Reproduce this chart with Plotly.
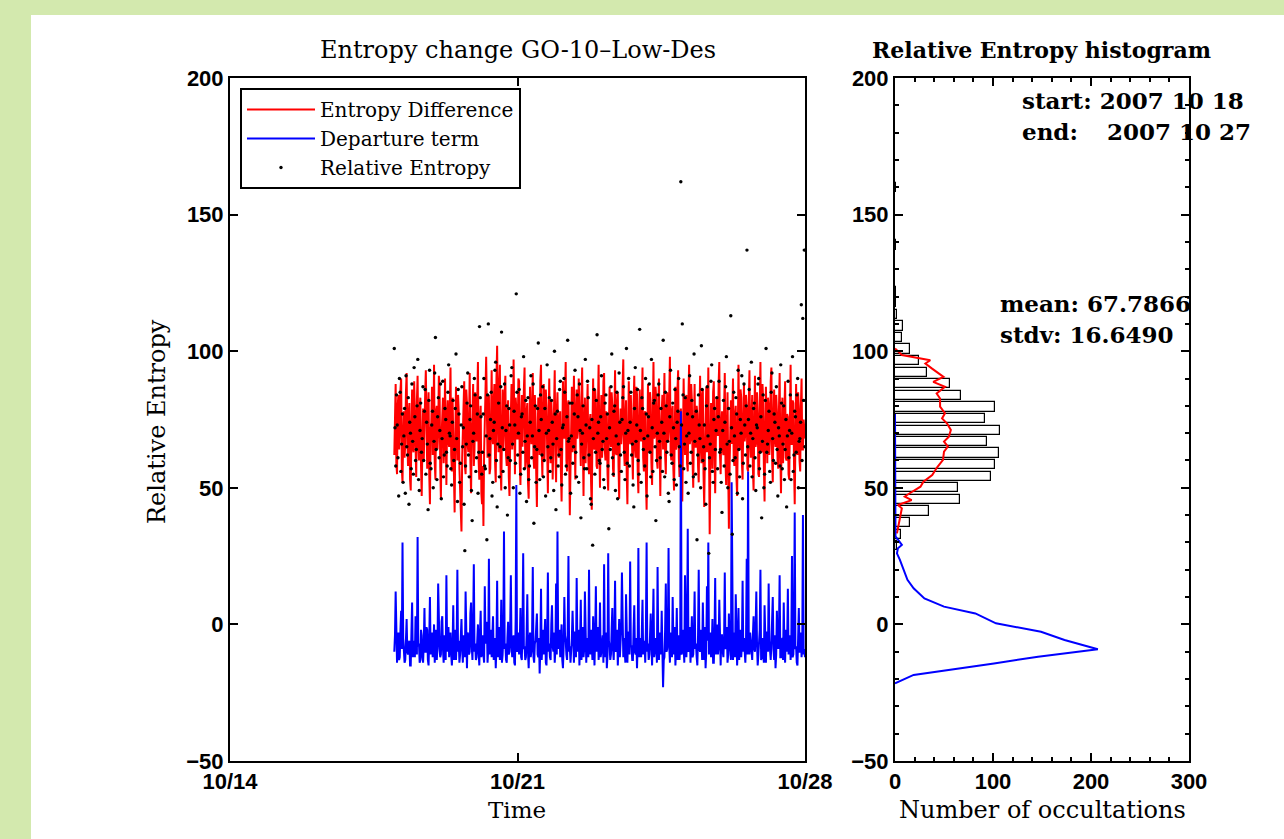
import numpy as np
import pandas as pd
import plotly.graph_objects as go

# ---------------- data ----------------
start_time = "2007-10-18 00:00"
end_time = "2007-10-28 00:00"

entropy_difference = [
    62, 74, 88, 59, 55, 80, 84, 64, 71, 86, 90, 57, 52, 69, 78, 61, 66, 85, 92, 70,
    58, 77, 81, 53, 49, 72, 86, 65, 63, 89, 75, 56, 54, 82, 91, 67, 60, 79, 83, 58,
    47, 66, 79, 60, 68, 84, 93, 63, 57, 76, 85, 55, 44, 71, 74, 87, 62, 68, 95, 59,
    53, 78, 80, 64, 70, 91, 88, 58, 46, 69, 77, 83, 59, 66, 90, 54, 51, 75, 82, 67,
    65, 80, 94, 62, 56, 83, 72, 51, 41, 68, 87, 73, 60, 84, 78, 57, 50, 45, 34, 61,
    69, 77, 89, 58, 55, 86, 81, 66, 63, 74, 92, 60, 48, 71, 76, 88, 58, 64, 85, 70,
    67, 82, 96, 60, 53, 75, 80, 48, 44, 58, 36, 63, 71, 85, 98, 66, 61, 79, 84, 55,
    57, 73, 93, 69, 66, 81, 88, 59, 52, 90, 102, 74, 63, 87, 95, 57, 49, 70, 86, 64,
    70, 85, 91, 62, 58, 76, 82, 54, 47, 66, 77, 88, 64, 72, 97, 61, 55, 83, 79, 68,
    68, 90, 89, 59, 51, 74, 84, 65, 72, 86, 94, 57, 60, 78, 81, 52, 46, 69, 87, 73,
    66, 79, 92, 61, 57, 84, 76, 55, 43, 67, 83, 71, 62, 89, 95, 64, 54, 77, 88, 60,
    70, 86, 80, 58, 48, 73, 90, 66, 59, 82, 75, 53, 65, 87, 93, 62, 52, 78, 85, 69,
    61, 75, 78, 56, 45, 66, 89, 72, 68, 84, 96, 60, 56, 80, 82, 63, 40, 57, 74, 87,
    63, 70, 91, 59, 53, 76, 86, 68, 71, 90, 79, 62, 58, 83, 94, 65, 47, 73, 83, 59,
    69, 82, 88, 60, 55, 74, 77, 52, 42, 70, 90, 65, 64, 86, 81, 58, 57, 79, 95, 67,
    50, 73, 84, 61, 67, 89, 92, 64, 60, 78, 76, 55, 49, 72, 87, 68, 65, 85, 80, 57,
    54, 77, 93, 63, 62, 81, 85, 58, 46, 71, 79, 66, 70, 88, 97, 64, 58, 76, 82, 55,
    44, 68, 89, 73, 66, 84, 75, 60, 53, 80, 91, 65, 61, 87, 84, 56, 48, 74, 86, 69,
    67, 80, 94, 61, 56, 77, 78, 53, 42, 65, 88, 72, 63, 85, 81, 59, 51, 74, 96, 68,
    69, 87, 83, 60, 57, 79, 90, 66, 47, 71, 76, 84, 64, 89, 92, 62, 55, 75, 85, 67,
    71, 84, 98, 63, 60, 78, 80, 57, 49, 70, 87, 64, 66, 86, 93, 61, 54, 76, 79, 58,
    45, 67, 90, 73, 62, 81, 84, 59, 56, 83, 95, 66, 68, 88, 82, 60, 50, 72, 88, 65,
    65, 80, 77, 58, 52, 74, 91, 66, 59, 84, 86, 55, 43, 62, 75, 87, 63, 71, 94, 57,
    33, 60, 81, 70, 57, 85, 89, 63, 48, 68, 83, 76, 69, 88, 96, 62, 55, 73, 78, 64,
    62, 79, 92, 60, 51, 70, 85, 56, 35, 58, 74, 82, 66, 87, 90, 61, 58, 77, 80, 54,
    47, 69, 95, 71, 64, 86, 83, 59, 53, 75, 88, 67, 70, 84, 79, 57, 56, 81, 93, 66,
    61, 76, 84, 57, 49, 72, 91, 65, 67, 85, 77, 55, 54, 80, 96, 64, 63, 88, 82, 58,
    45, 70, 87, 74, 59, 83, 80, 62, 68, 89, 94, 61, 52, 75, 86, 68, 65, 84, 78, 60,
    57, 78, 92, 63, 48, 69, 83, 59, 70, 86, 89, 61, 60, 77, 76, 55, 53, 74, 95, 66,
    66, 82, 81, 58, 44, 67, 88, 72, 62, 85, 79, 60, 56, 80, 90, 64, 64, 75, 72, 68,
]

departure_term = [
    -10, -4, 12, -11, -14, -6, -3, -13, -12, -2, 5, -9, 30, -5, -8, -14, -13, -1, 2, -10,
    -11, -7, -6, -15, -15, -3, 8, -12, -9, -6, -12, 3, 1, -11, 32, -8, -7, -14, -13, -2,
    -4, -12, -14, -7, 6, -10, -10, -1, -2, -13, -15, -5, 10, -11, -8, -3, -12, -9, 0, -14,
    -6, -2, -13, -8, 15, -6, -9, -12, -11, 1, 3, -9, -14, -4, -5, -13, 18, -7, -10, -1,
    -12, -5, -3, -11, -15, -8, 7, -13, -8, -2, -13, -6, 20, -10, -6, -14, -11, 0, 2, -9,
    -14, -4, -9, -12, 12, -7, -16, -3, -4, -11, -10, 4, 8, -8, -13, -1, 22, -10, -7, -13,
    -12, -6, 0, -10, -15, -3, 5, -12, -9, -4, -11, -14, 14, -7, -6, 1, -14, -9, 24, -11,
    -8, -2, -12, -6, 3, -13, -10, -5, -16, -8, 16, -12, -5, -1, -13, -9, 9, -14, -11, -4,
    34, -9, -7, -13, -14, -5, 1, -11, -10, -2, 18, -8, -12, -6, -4, -14, -15, 2, 51, -10,
    -9, -3, -11, -7, 6, -12, -13, -1, 26, -9, -8, -13, -12, -4, 11, -10, -16, -6, -3, -12,
    -10, -3, 21, -12, -14, -7, -6, -1, 4, -11, -12, -5, -18, -9, 13, -13, -8, -2, -11, -6,
    2, -14, -15, -4, 19, -10, -7, -12, -13, 0, 7, -8, -10, -3, -14, -9, 15, -11, 34, -6,
    -9, -2, -12, -6, 0, -13, -16, -8, 10, -4, -6, -11, -13, -1, 25, -10, -8, -14, -11, -5,
    5, -9, -14, -3, -3, -12, 17, -7, -10, -2, -15, -6, 9, -13, -7, -1, -12, -9, 12, -5,
    -14, -6, -5, -12, 20, -8, -11, -2, -9, -13, 3, -7, -15, -4, 14, -10, -7, -1, -13, -9,
    8, -12, -10, -5, -4, -14, 22, -8, -12, -3, -16, -11, 26, -6, -8, -13, -11, -2, 6, -9,
    -13, -4, 16, -10, -9, -2, -15, -7, 2, -12, -6, -1, 19, -9, -12, -5, -10, -14, 11, -6,
    -14, -3, -3, -11, 23, -8, -8, -13, -13, -2, 7, -10, -11, -5, -16, -7, 28, -12, -5, -9,
    -12, -3, 9, -11, -9, -6, -14, -1, 30, -10, -7, -13, -11, -4, 4, -8, -15, -2, 13, -12,
    -10, -5, -6, -14, 21, -9, -13, -3, -8, -11, 5, -7, -23, -13, -12, -2, 15, -10, -9, -4,
    28, -8, -14, -3, -4, -12, 10, -6, -11, -1, -15, -9, 6, -13, -8, -4, -13, -7, 78, -11,
    -10, -2, -6, -14, 18, -8, -12, -5, 35, -10, -9, -1, -14, -6, 3, -12, -11, -3, 12, -9,
    -7, -12, -15, -4, 20, -9, -10, -2, -5, -13, 8, -7, -13, -1, -16, -10, 14, -6, 30, -11,
    -9, -3, -12, -8, 2, -14, -14, -5, 17, -11, -6, 0, -11, -8, 9, -13, -15, -4, -4, -10,
    -12, -5, 19, -9, -8, -1, -14, -11, 4, -6, -10, -13, 52, -8, -13, -3, -7, -12, 11, -4,
    -15, -9, 6, -13, -9, -2, -12, -7, 16, -10, -5, -14, -14, -6, 24, -11, 56, -8, -11, -3,
    -8, -12, -13, -4, 3, -9, -10, -1, 12, -7, -15, -11, -6, -2, 20, -13, -12, -5, -9, -14,
    7, -8, -14, -3, -3, -10, 15, -6, -11, -13, -7, -1, 10, -9, -13, -4, -16, -11, 5, -7,
    -9, -3, 18, -12, -12, -6, -5, -13, 8, -9, -14, -2, -10, -7, 13, -11, -7, -4, -13, -8,
    25, -12, -11, -1, 41, -9, -8, -14, -15, -5, 6, -10, -10, -3, -12, -8, 40, -11, -9, -12,
]

relative_entropy = [
    101, 72, 58, 84, 73, 61, 47, 90, 85, 56, 66, 77, 52, 69, 79, 48, 91, 65, 62, 83,
    44, 74, 70, 57, 88, 67, 55, 94, 76, 60, 64, 80, 97, 53, 49, 71, 81, 63, 68, 87,
    60, 78, 86, 55, 74, 66, 42, 82, 93, 59, 57, 73, 78, 50, 67, 92, 105, 64, 53, 76,
    83, 61, 71, 88, 46, 68, 89, 54, 62, 79, 75, 63, 58, 85, 95, 70, 69, 57, 51, 74,
    82, 60, 64, 79, 99, 68, 45, 86, 77, 52, 59, 73, 87, 65, 72, 44, 27, 58, 66, 81,
    92, 62, 54, 75, 80, 49, 38, 67, 70, 90, 84, 56, 61, 77, 48, 63, 109, 83, 76, 55,
    63, 77, 90, 58, 57, 69, 31, 84, 110, 62, 68, 75, 85, 47, 52, 71, 74, 93, 96, 60,
    43, 66, 81, 54, 65, 87, 107, 72, 56, 64, 88, 50, 71, 80, 40, 61, 79, 73, 60, 91,
    94, 66, 50, 78, 73, 59, 121, 85, 62, 70, 86, 48, 55, 76, 77, 63, 98, 57, 67, 82,
    45, 69, 83, 53, 58, 74, 91, 61, 69, 88, 37, 65, 80, 52, 64, 79, 103, 71, 53, 84,
    75, 62, 87, 54, 60, 79, 47, 70, 95, 65, 71, 83, 56, 61, 82, 74, 66, 49, 100, 77,
    42, 68, 78, 58, 62, 86, 89, 64, 51, 72, 73, 90, 85, 55, 58, 76, 104, 67, 68, 81,
    48, 69, 81, 59, 65, 77, 93, 63, 54, 84, 76, 52, 88, 71, 39, 66, 70, 80, 61, 57,
    97, 73, 57, 89, 83, 62, 72, 46, 44, 75, 29, 68, 86, 55, 63, 82, 106, 70, 74, 60,
    59, 76, 91, 64, 67, 53, 50, 81, 84, 68, 77, 58, 35, 72, 64, 87, 99, 61, 55, 78,
    80, 49, 69, 85, 46, 66, 92, 74, 62, 56, 75, 83, 87, 63, 53, 70, 101, 59, 71, 90,
    58, 74, 85, 62, 66, 51, 43, 79, 94, 67, 73, 86, 60, 55, 108, 71, 52, 83, 79, 64,
    68, 58, 90, 77, 47, 69, 76, 88, 63, 54, 97, 72, 56, 81, 82, 65, 38, 60, 70, 84,
    88, 67, 61, 79, 74, 56, 104, 70, 54, 85, 80, 63, 67, 48, 45, 76, 93, 62, 59, 81,
    72, 53, 86, 68, 51, 74, 78, 90, 65, 58, 162, 73, 110, 84, 57, 66, 83, 52, 69, 77,
    48, 70, 91, 59, 63, 82, 76, 54, 99, 67, 55, 78, 31, 62, 84, 73, 68, 50, 102, 86,
    60, 65, 73, 57, 44, 80, 87, 69, 26, 61, 66, 89, 95, 56, 52, 75, 79, 64, 71, 83,
    57, 76, 89, 63, 64, 52, 41, 71, 82, 58, 74, 87, 98, 66, 50, 79, 67, 55, 113, 72,
    33, 60, 85, 69, 61, 83, 77, 48, 93, 64, 54, 75, 70, 91, 46, 59, 88, 73, 62, 80,
    137, 65, 75, 86, 58, 70, 96, 54, 68, 79, 81, 61, 49, 73, 72, 88, 90, 57, 63, 76,
    39, 67, 84, 50, 55, 82, 101, 63, 66, 71, 78, 56, 52, 85, 92, 68, 60, 77, 74, 59,
    87, 64, 47, 72, 69, 58, 95, 81, 57, 66, 80, 53, 64, 75, 43, 69, 89, 61, 71, 84,
    53, 70, 98, 56, 62, 78, 76, 63, 84, 90, 50, 67, 68, 74, 117, 60, 112, 82, 137, 65,
]

# histogram of relative entropy (bin centres and counts)
hist_bin_centers = [28.8, 33.0, 37.3, 41.5, 45.7, 50.0, 54.2, 58.4, 62.7, 66.9, 71.1,
                    75.4, 79.6, 83.8, 88.1, 92.3, 96.5, 100.8, 105.0, 109.2, 113.5,
                    117.7, 121.9, 126.2, 130.4, 134.6, 138.9, 143.1, 147.3, 151.6,
                    155.8, 160.0]
hist_counts = [2, 6, 15, 35, 66, 64, 98, 102, 106, 94, 107, 92, 102, 67, 56, 33, 24,
               15, 7, 8, 2, 1, 1, 0, 0, 0, 1, 0, 0, 0, 0, 1]
hist_bar_width = 3.38

# distribution curves of the two terms
diff_curve_values = [101, 98.6, 96.7, 95.5, 93.7, 90.6, 88.8, 87.0, 84.5, 82.7, 79.7,
                     77.3, 75.4, 73.6, 71.2, 68.7, 66.9, 65.1, 63.2, 60.2, 57.5, 54.7,
                     52.2, 50.4, 48.0, 46.8, 45.5, 43.7, 42.5, 38.2, 34.6, 33.3]
diff_curve_counts = [0, 7, 36, 31, 37.5, 49.5, 39, 51, 42.5, 46, 46, 51, 48, 53, 57, 55,
                     50, 54, 50, 49, 43, 38, 29, 26, 15, 10, 17, 3, 7, 4.5, 3, 2]
dep_curve_values = [77, 33, 32.2, 31.0, 29.1, 27.9, 26.0, 23.6, 19.9, 16.3, 13.2, 9.5,
                    6.5, 4.0, 0.4, -2.7, -5.7, -9.1, -11.8, -14.3, -18.5, -21.6]
dep_curve_counts = [0, 0, 0.5, 3, 7, 3, 2, 5, 8.5, 12.7, 19, 30, 50, 82, 103, 149, 173,
                    207, 146, 101, 19, 0]

x_tick_vals = ["2007-10-14", "2007-10-21", "2007-10-28"]
x_tick_text = ["10/14", "10/21", "10/28"]

stat_start = "2007 10 18"
stat_end = "2007 10 27"
stat_mean = "67.7866"
stat_stdv = "16.6490"

# ---------------- figure ----------------
W, H = 1284, 839
t0 = pd.Timestamp(start_time)
t1 = pd.Timestamp(end_time)
t_lines = pd.to_datetime(np.linspace(t0.value, t1.value, len(entropy_difference)))
t_dots = pd.to_datetime(np.linspace(t0.value, t1.value, len(relative_entropy)))


def px(x):
    return x / W


def py(y):
    return 1 - y / H


fig = go.Figure()

fig.add_trace(go.Scatter(x=t_lines, y=entropy_difference, mode="lines",
                         line=dict(color="#ff0000", width=2),
                         name="Entropy Difference", xaxis="x", yaxis="y"))
fig.add_trace(go.Scatter(x=t_lines, y=departure_term, mode="lines",
                         line=dict(color="#0000ff", width=2),
                         name="Departure term", xaxis="x", yaxis="y"))
fig.add_trace(go.Scatter(x=t_dots, y=relative_entropy, mode="markers",
                         marker=dict(color="black", size=3.4),
                         name="Relative Entropy", xaxis="x", yaxis="y"))

fig.add_trace(go.Bar(x=hist_counts, y=hist_bin_centers, orientation="h",
                     width=hist_bar_width,
                     marker=dict(color="white", line=dict(color="black", width=1.2)),
                     showlegend=False, xaxis="x2", yaxis="y2"))
fig.add_trace(go.Scatter(x=diff_curve_counts, y=diff_curve_values, mode="lines",
                         line=dict(color="#ff0000", width=2),
                         showlegend=False, xaxis="x2", yaxis="y2"))
fig.add_trace(go.Scatter(x=dep_curve_counts, y=dep_curve_values, mode="lines",
                         line=dict(color="#0000ff", width=2),
                         showlegend=False, xaxis="x2", yaxis="y2"))

tickfont = dict(family="Liberation Sans, Arial, sans-serif", size=22, color="black",
                weight="bold")
serif = "DejaVu Serif, serif"

axis_common = dict(showline=True, linecolor="black", linewidth=2, mirror="ticks",
                   ticks="inside", tickcolor="black", tickwidth=2, ticklen=8,
                   showgrid=False, zeroline=False, tickfont=tickfont,
                   automargin=False)

fig.update_layout(
    width=W, height=H,
    template="none",
    margin=dict(l=0, r=0, t=0, b=0),
    paper_bgcolor="#d3e9ae",
    plot_bgcolor="white",
    showlegend=True,
    bargap=0,
    xaxis=dict(domain=[px(230), px(805)], type="date",
               range=[x_tick_vals[0], x_tick_vals[-1]],
               tickvals=x_tick_vals, ticktext=x_tick_text, anchor="y",
               **axis_common),
    yaxis=dict(domain=[py(761), py(78)], range=[-50, 200], dtick=50, anchor="x",
               **axis_common),
    xaxis2=dict(domain=[px(895), px(1189)], range=[0, 300], dtick=100, anchor="y2",
                minor=dict(ticks="inside", ticklen=4, dtick=20, tickcolor="black",
                           tickwidth=1.5),
                **axis_common),
    yaxis2=dict(domain=[py(761), py(78)], range=[-50, 200], dtick=50, anchor="x2",
                minor=dict(ticks="inside", ticklen=4, dtick=10, tickcolor="black",
                           tickwidth=1.5),
                **axis_common),
    legend=dict(x=px(240), y=py(88), xanchor="left", yanchor="top",
                bgcolor="white", bordercolor="black", borderwidth=2,
                font=dict(family=serif, size=20, color="black"),
                tracegroupgap=0, itemwidth=68),
    shapes=[dict(type="rect", xref="paper", yref="paper", x0=px(31), x1=1.01,
                 y0=-0.01, y1=py(15), fillcolor="white", line=dict(width=0),
                 layer="below")],
)

annotations = [
    dict(text="Entropy change GO-10–Low-Des", x=px(518), y=py(50),
         font=dict(family=serif, size=24, color="black")),
    dict(text="<b>Relative Entropy histogram</b>", x=px(1041), y=py(50),
         font=dict(family=serif, size=22, color="black")),
    dict(text="Time", x=px(517), y=py(810),
         font=dict(family=serif, size=23, color="black")),
    dict(text="Number of occultations", x=px(1042), y=py(810),
         font=dict(family=serif, size=24, color="black")),
    dict(text="Relative Entropy", x=px(157), y=py(422), textangle=-90,
         font=dict(family=serif, size=24, color="black")),
    dict(text="<b>start: " + stat_start + "</b>", x=px(1020), y=py(100),
         xanchor="left", font=dict(family=serif, size=23, color="black")),
    dict(text="<b>end:</b>", x=px(1020), y=py(131), xanchor="left",
         font=dict(family=serif, size=23, color="black")),
    dict(text="<b>" + stat_end + "</b>", x=px(1105), y=py(131), xanchor="left",
         font=dict(family=serif, size=23, color="black")),
    dict(text="<b>mean: " + stat_mean + "</b>", x=px(998), y=py(303),
         xanchor="left", font=dict(family=serif, size=23, color="black")),
    dict(text="<b>stdv: " + stat_stdv + "</b>", x=px(998), y=py(334),
         xanchor="left", font=dict(family=serif, size=23, color="black")),
]
for a in annotations:
    a.setdefault("xanchor", "center")
    a.update(xref="paper", yref="paper", yanchor="middle", showarrow=False)
fig.update_layout(annotations=annotations)

fig.write_html("out.html", config={"displayModeBar": False},
               post_script="document.body.style.margin='0';")
